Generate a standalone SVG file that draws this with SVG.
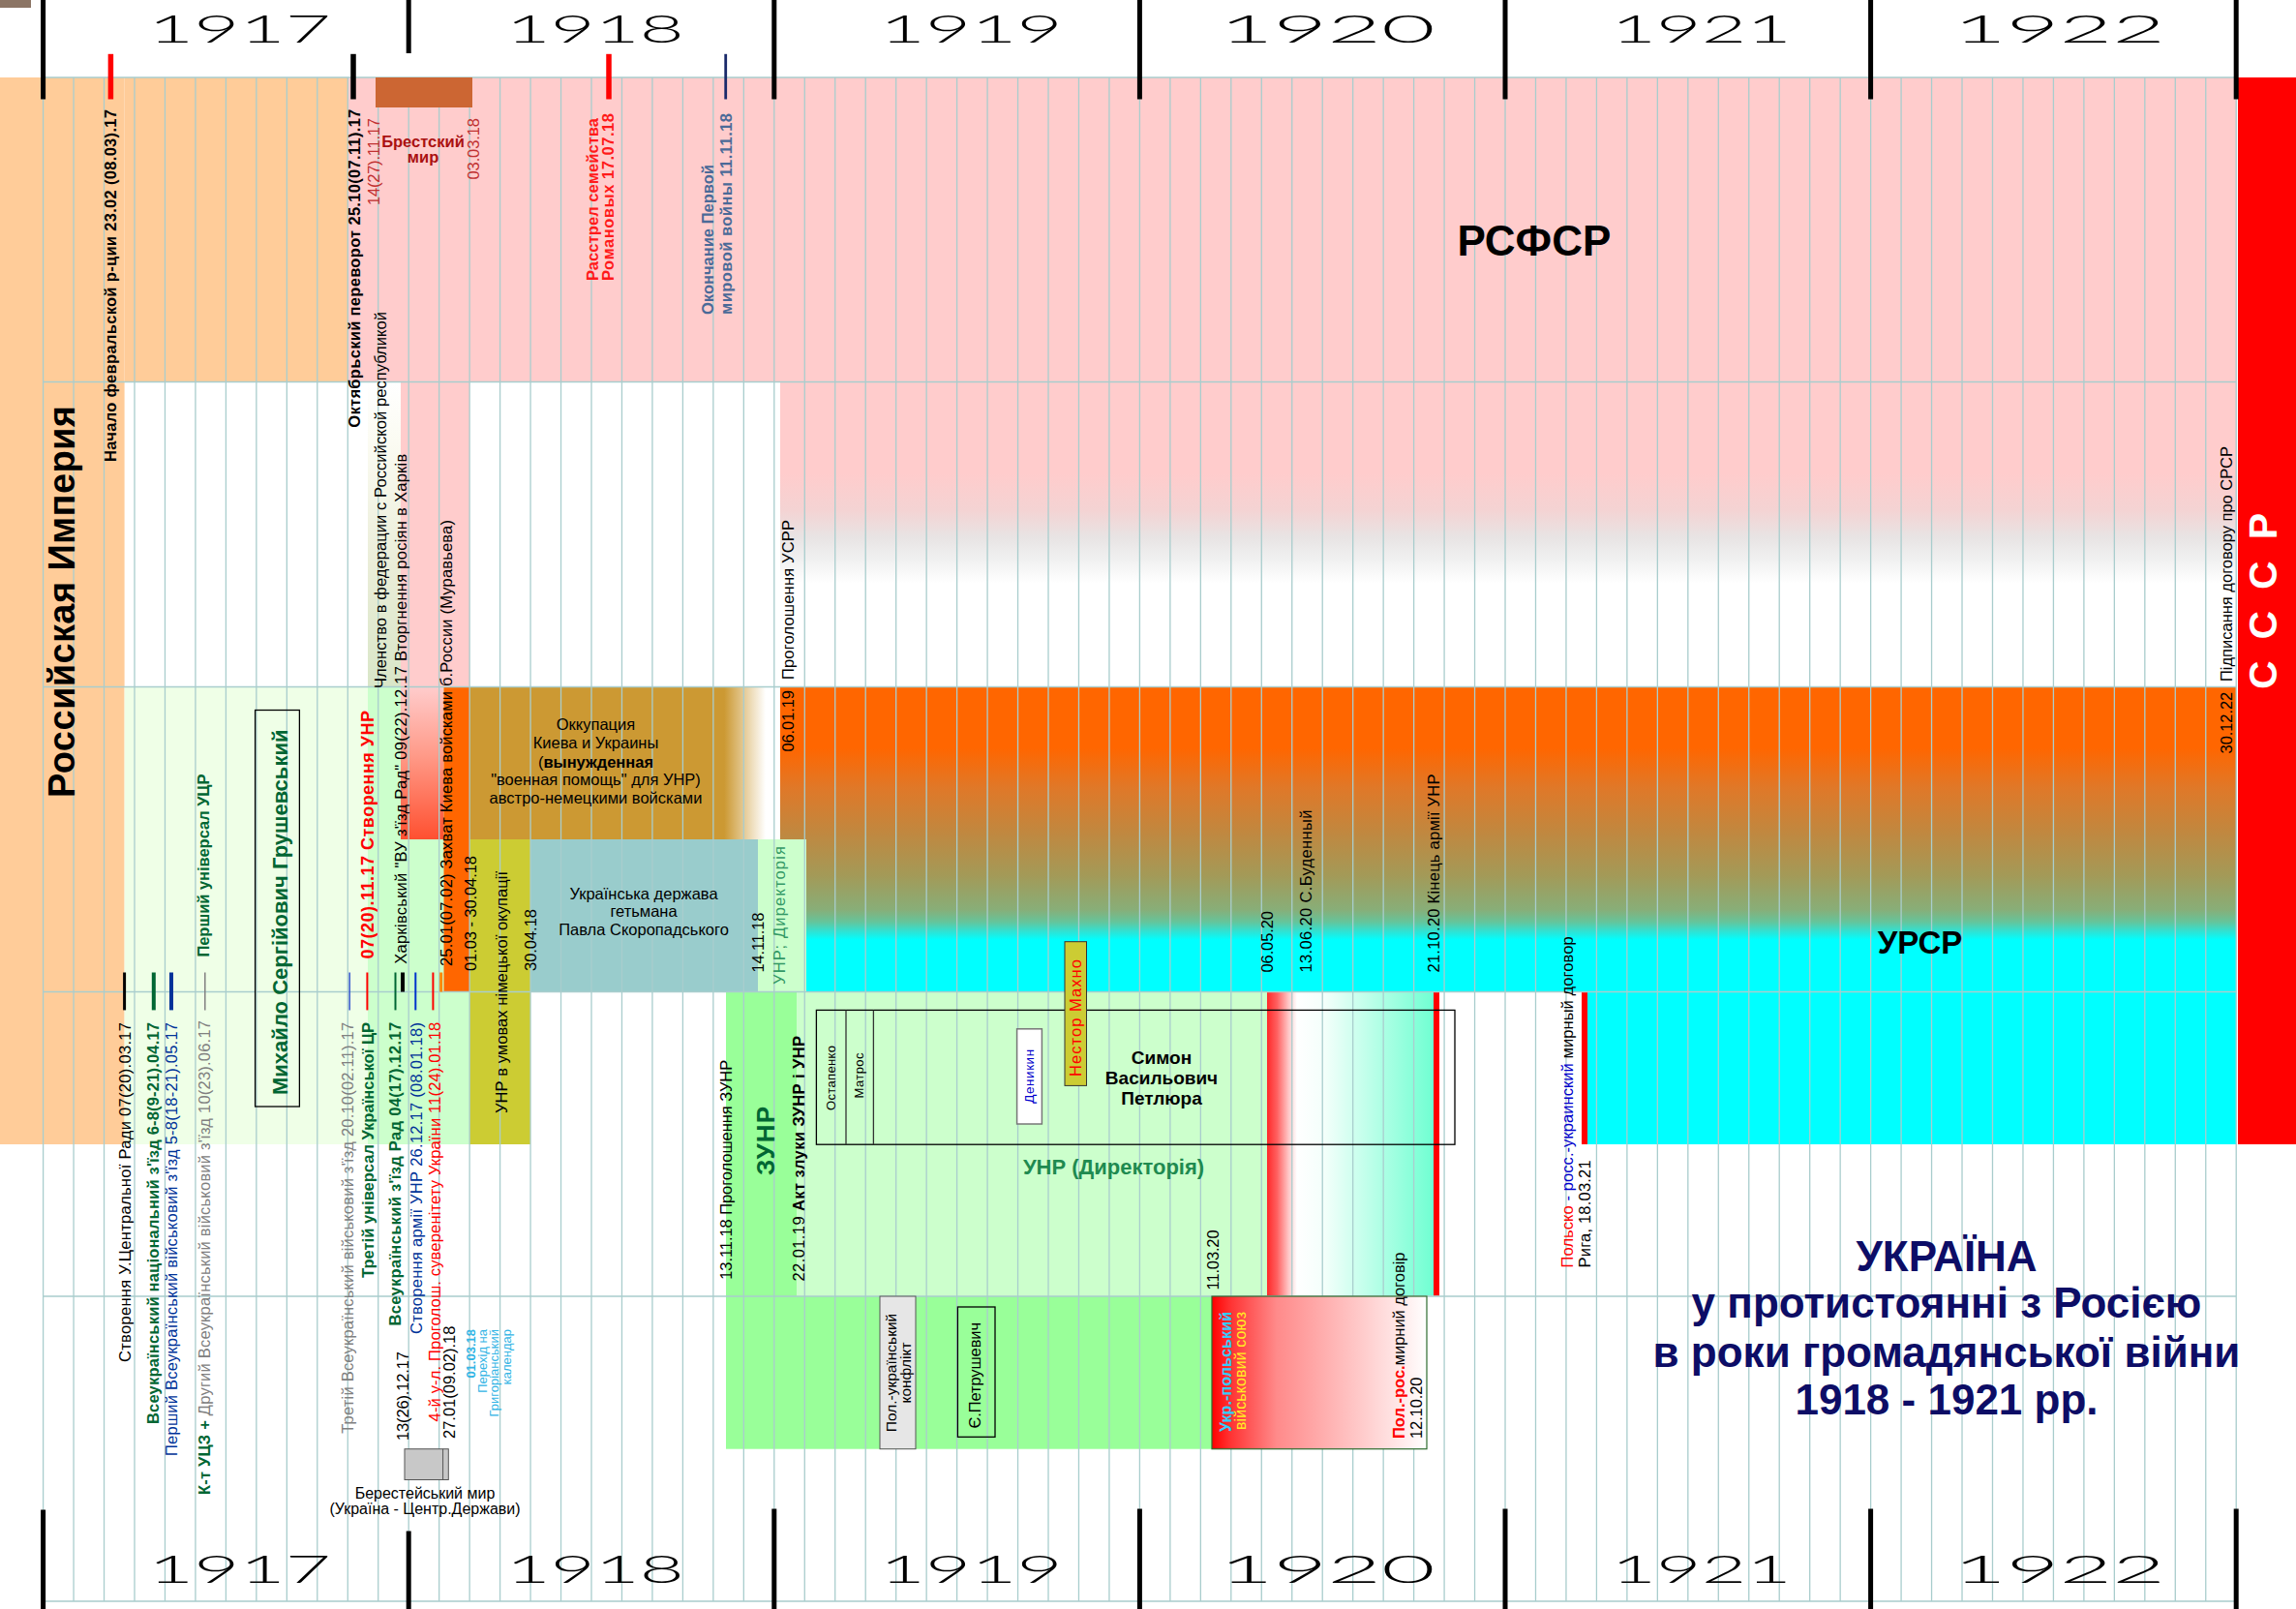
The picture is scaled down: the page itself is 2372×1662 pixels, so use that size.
<svg xmlns="http://www.w3.org/2000/svg" width="2372" height="1662" viewBox="0 0 2372 1662" xml:space="preserve">
<style>
text{font-family:"Liberation Sans",Arial,"Noto Sans",sans-serif;font-size:16.5px;fill:#000}
.b{font-weight:bold}
.yr{font-family:Lato,"DejaVu Sans",sans-serif;font-weight:300;font-size:39px}
.g{fill:#006633}
.bl{fill:#003399}
.gr{fill:#808080}
.r{fill:#FF0000}
.dr{fill:#C03030}
.grid{stroke:#A9CDCD;stroke-width:1.3;fill:none}
.yt{stroke:#000;stroke-width:5}
.box{fill:none;stroke:#000;stroke-width:1.3}
.title{font-size:44px;font-weight:bold;fill:#0D0D66}
</style>
<defs>
<linearGradient id="gFed" x1="0" y1="0" x2="0" y2="1"><stop offset="0" stop-color="#FFFFFF"/><stop offset="0.2" stop-color="#FBFBF2"/><stop offset="0.6" stop-color="#EAEDD8"/><stop offset="1" stop-color="#D9E6C8"/></linearGradient>
<linearGradient id="gPink" x1="0" y1="0" x2="0" y2="1"><stop offset="0" stop-color="#FFCCCC"/><stop offset="0.3" stop-color="#FFCCCC"/><stop offset="0.42" stop-color="#F4D3D3"/><stop offset="0.51" stop-color="#E8E4E4"/><stop offset="0.58" stop-color="#F0F0F0"/><stop offset="0.66" stop-color="#FFFFFF"/><stop offset="1" stop-color="#FFFFFF"/></linearGradient>
<linearGradient id="gInv" x1="0" y1="0" x2="0" y2="1"><stop offset="0" stop-color="#FFCCCC"/><stop offset="0.45" stop-color="#FF9A88"/><stop offset="1" stop-color="#FF5030"/></linearGradient>
<linearGradient id="gOcc" x1="0" y1="0" x2="1" y2="0"><stop offset="0" stop-color="#CC9933"/><stop offset="0.86" stop-color="#CC9933"/><stop offset="1" stop-color="#CC9933" stop-opacity="0"/></linearGradient>
<linearGradient id="gUrsr" x1="0" y1="0" x2="0" y2="1"><stop offset="0" stop-color="#FF6600"/><stop offset="0.2" stop-color="#FF6600"/><stop offset="0.33" stop-color="#E07828"/><stop offset="0.48" stop-color="#C08840"/><stop offset="0.62" stop-color="#A39A58"/><stop offset="0.73" stop-color="#88AE78"/><stop offset="0.77" stop-color="#66C49A"/><stop offset="0.8" stop-color="#33E0D0"/><stop offset="0.83" stop-color="#00FFFF"/><stop offset="1" stop-color="#00FFFF"/></linearGradient>
<linearGradient id="gPol" x1="0" y1="0" x2="1" y2="0"><stop offset="0" stop-color="#FF2A2A"/><stop offset="0.06" stop-color="#FF6060"/><stop offset="0.13" stop-color="#FFC8C8"/><stop offset="0.18" stop-color="#FFFFFF"/><stop offset="0.34" stop-color="#F4FFFB"/><stop offset="0.6" stop-color="#C0FFEA"/><stop offset="1" stop-color="#70FFD2"/></linearGradient>
<linearGradient id="gAll" x1="0" y1="0" x2="1" y2="0"><stop offset="0" stop-color="#FF0000"/><stop offset="0.08" stop-color="#FF3030"/><stop offset="0.3" stop-color="#FF8A8A"/><stop offset="0.6" stop-color="#FFBBBB"/><stop offset="0.85" stop-color="#FFE4E4"/><stop offset="1" stop-color="#FFFFFF"/></linearGradient>
</defs>
<rect x="0" y="0" width="2372" height="1662" fill="#FFFFFF"/>
<rect x="0" y="0" width="32" height="8" fill="#8C7565"/>
<g id="areas">
<rect id="peach-left" x="0" y="80" width="128.6" height="1102" fill="#FFCC99"/>
<rect id="peach-row1" x="128.6" y="80" width="230.7" height="314.5" fill="#FFCC99"/>
<rect id="pink-row1" x="359.27" y="80" width="1950.95" height="314.5" fill="#FFCCCC"/>
<rect id="fed-col" x="380" y="394.5" width="34" height="315" fill="url(#gFed)"/>
<rect id="pink-col" x="414" y="394.5" width="71" height="315" fill="#FFCCCC"/>
<rect id="rsfsr-fade" x="806" y="394.5" width="1504.2" height="315" fill="url(#gPink)"/>
<rect id="pale-green" x="128.6" y="709.5" width="251.4" height="472.5" fill="#EFFFE7"/>
<rect id="light-green" x="380" y="709.5" width="105" height="472.5" fill="#CCFFCC"/>
<rect id="invasion" x="414" y="709.5" width="44.5" height="157.5" fill="url(#gInv)"/>
<rect id="kiev-capture" x="458.5" y="709.5" width="26.5" height="315" fill="#FF6600"/>
<rect id="ursr-band" x="806" y="709.5" width="1504.2" height="315" fill="url(#gUrsr)"/>
<rect id="occupation-area" x="485" y="709.5" width="306" height="157.5" fill="url(#gOcc)"/>
<rect id="olive-area" x="485" y="867" width="63" height="315" fill="#CCCC33"/>
<rect id="hetman-area" x="548" y="867" width="235" height="157.5" fill="#99CCCC"/>
<rect id="directory-strip" x="783" y="867" width="50" height="157.5" fill="#CCFFCC"/>
<rect id="zunr-col" x="750" y="1024.5" width="73.5" height="315" fill="#99FF99"/>
<rect id="zunr-bottom" x="750" y="1339" width="502" height="157.7" fill="#99FF99"/>
<rect id="unr-dir-area" x="823.5" y="1024.5" width="485.5" height="314.5" fill="#CCFFCC"/>
<rect id="polish-1920" x="1309" y="1024.5" width="172" height="314" fill="url(#gPol)"/>
<rect x="1481" y="1024.5" width="6" height="314" fill="#FF0000"/>
<rect x="1634" y="1024.5" width="6" height="157.5" fill="#FF0000"/>
<rect id="cyan-area" x="1640" y="1024.5" width="670.2" height="157.5" fill="#00FFFF"/>
<rect id="ussr-band" x="2312" y="80" width="60" height="1102" fill="#FF0000"/>
</g>
<g id="grid">
<path class="grid" d="M44.6 80V1654M76.07 80V1654M107.53 80V1654M139 80V1654M170.47 80V1654M201.94 80V1654M233.4 80V1654M264.87 80V1654M296.34 80V1654M327.8 80V1654M359.27 80V1654M390.74 80V1654M422.2 80V1654M453.67 80V1654M485.14 80V1654M516.6 80V1654M548.07 80V1654M579.54 80V1654M611.01 80V1654M642.47 80V1654M673.94 80V1654M705.41 80V1654M736.87 80V1654M768.34 80V1654M799.81 80V1654M831.28 80V1654M862.74 80V1654M894.21 80V1654M925.68 80V1654M957.14 80V1654M988.61 80V1654M1020.08 80V1654M1051.54 80V1654M1083.01 80V1654M1114.48 80V1654M1145.95 80V1654M1177.41 80V1654M1208.88 80V1654M1240.35 80V1654M1271.81 80V1654M1303.28 80V1654M1334.75 80V1654M1366.21 80V1654M1397.68 80V1654M1429.15 80V1654M1460.62 80V1654M1492.08 80V1654M1523.55 80V1654M1555.02 80V1654M1586.48 80V1654M1617.95 80V1654M1649.42 80V1654M1680.88 80V1654M1712.35 80V1654M1743.82 80V1654M1775.29 80V1654M1806.75 80V1654M1838.22 80V1654M1869.69 80V1654M1901.15 80V1654M1932.62 80V1654M1964.09 80V1654M1995.55 80V1654M2027.02 80V1654M2058.49 80V1654M2089.96 80V1654M2121.42 80V1654M2152.89 80V1654M2184.36 80V1654M2215.82 80V1654M2247.29 80V1654M2278.76 80V1654M2310.22 80V1654M44.6 80H2310.22M44.6 394.5H2310.22M44.6 709.5H2310.22M44.6 1024.5H2310.22M44.6 1339H2310.22M44.6 1654H2310.22"/>
</g>
<g id="connectors">
<path class="yt" d="M44.6 0V102.5M422.2 0V55M799.8 0V102.5M1177.4 0V102.5M1555 0V102.5M1932.6 0V102.5M2310.2 0V102.5M44.6 1559.6V1662M422.2 1581.5V1662M799.8 1558.5V1662M1177.4 1558.5V1662M1555 1558.5V1662M1932.6 1558.5V1662M2310.2 1558.5V1662"/>
<path d="M114.4 55.8V102.5" stroke="#FF0000" stroke-width="5.5"/>
<path d="M365 55.8V102.5" stroke="#000" stroke-width="5.5"/>
<path d="M629 55.8V102.5" stroke="#FF0000" stroke-width="5.5"/>
<path d="M749.7 55.8V102.5" stroke="#1A2A6A" stroke-width="2.8"/>
<path d="M128.6 1004.5V1043.4" stroke="#000" stroke-width="3"/>
<path d="M158.8 1004.5V1043.4" stroke="#006633" stroke-width="4"/>
<path d="M177 1004.5V1043.4" stroke="#003399" stroke-width="4"/>
<path d="M211.8 1004.5V1043.4" stroke="#808080" stroke-width="1.5"/>
<path d="M361.2 1004.5V1043.4" stroke="#3355CC" stroke-width="1.5"/>
<path d="M379.4 1004.5V1043.4" stroke="#FF0000" stroke-width="2"/>
<path d="M408.5 1004.5V1043.4" stroke="#006633" stroke-width="2"/>
<path d="M416 1004.5V1024.5" stroke="#000" stroke-width="4"/>
<path d="M429.3 1004.5V1043.4" stroke="#0033CC" stroke-width="2"/>
<path d="M447.4 1004.5V1043.4" stroke="#FF0000" stroke-width="2"/>
<path d="M455.7 1004.5V1024.5" stroke="#FF8800" stroke-width="3"/>
</g>
<g id="years">
<text class="yr" x="153" y="44.2" textLength="189" lengthAdjust="spacingAndGlyphs">1917</text>
<text class="yr" x="522.7" y="44.2" textLength="184" lengthAdjust="spacingAndGlyphs">1918</text>
<text class="yr" x="908.8" y="44.2" textLength="189" lengthAdjust="spacingAndGlyphs">1919</text>
<text class="yr" x="1259.7" y="44.2" textLength="223" lengthAdjust="spacingAndGlyphs">1920</text>
<text class="yr" x="1664.4" y="44.2" textLength="186.5" lengthAdjust="spacingAndGlyphs">1921</text>
<text class="yr" x="2018" y="44.2" textLength="219" lengthAdjust="spacingAndGlyphs">1922</text>
<text class="yr" x="153" y="1634.5" textLength="189" lengthAdjust="spacingAndGlyphs">1917</text>
<text class="yr" x="522.7" y="1634.5" textLength="184" lengthAdjust="spacingAndGlyphs">1918</text>
<text class="yr" x="908.8" y="1634.5" textLength="189" lengthAdjust="spacingAndGlyphs">1919</text>
<text class="yr" x="1259.7" y="1634.5" textLength="223" lengthAdjust="spacingAndGlyphs">1920</text>
<text class="yr" x="1664.4" y="1634.5" textLength="186.5" lengthAdjust="spacingAndGlyphs">1921</text>
<text class="yr" x="2018" y="1634.5" textLength="219" lengthAdjust="spacingAndGlyphs">1922</text>
</g>
<g id="russian-empire">
<text class="b" style="font-size:38px" transform="translate(77,824) rotate(-90)" textLength="405">Российская Империя</text>
</g>
<g id="feb-revolution">
<text class="b" transform="translate(119.5,477) rotate(-90)" textLength="364">Начало февральской р-ции   23.02 (08.03).17</text>
</g>
<g id="oct-revolution">
<text class="b" transform="translate(372,441.7) rotate(-90)" textLength="329">Октябрьский переворот  25.10(07.11).17</text>
</g>
<g id="brest-peace">
<rect x="388" y="80" width="100" height="31" fill="#CC6633"/>
<text class="dr" transform="translate(392,212) rotate(-90)" textLength="90">14(27).11.17</text>
<text class="b" style="fill:#AA1111" x="437" y="152" text-anchor="middle">Брестский</text>
<text class="b" style="fill:#AA1111" x="437" y="168" text-anchor="middle">мир</text>
<text class="dr" transform="translate(495,185.5) rotate(-90)" textLength="63.5">03.03.18</text>
</g>
<g id="romanov">
<text class="b" style="fill:#FF1A1A" transform="translate(618,290) rotate(-90)" textLength="168">Расстрел семейства</text>
<text class="b" style="fill:#FF1A1A" transform="translate(634,290) rotate(-90)" textLength="173">Романовых   17.07.18</text>
</g>
<g id="wwi-end">
<text class="b" style="fill:#4A6A98" transform="translate(737,325) rotate(-90)" textLength="155">Окончание Первой</text>
<text class="b" style="fill:#4A6A98" transform="translate(756,325) rotate(-90)" textLength="208">мировой войны   11.11.18</text>
</g>
<g id="rsfsr">
<text class="b" style="font-size:44px" x="1505.6" y="264">РСФСР</text>
</g>
<g id="federation">
<text transform="translate(398.5,711) rotate(-90)" textLength="389">Членство в федерации с Российской республикой</text>
</g>
<g id="kharkiv">
<text transform="translate(420,995.7) rotate(-90)" textLength="527">Харківський "ВУ з'їзд Рад"   09(22).12.17 Вторгнення росіян в Харків</text>
</g>
<g id="kiev-capture-label">
<text transform="translate(466.5,998) rotate(-90)" textLength="461">25.01(07.02) Захват Киева войсками б.России (Муравьева)</text>
</g>
<g id="ussr-proclaim">
<text transform="translate(819.5,702) rotate(-90)" textLength="165">Проголошення УСРР</text>
<text transform="translate(819.5,776.6) rotate(-90)" textLength="63.6">06.01.19</text>
</g>
<g id="ussr-treaty">
<text transform="translate(2306,704) rotate(-90)" textLength="243">Підписання договору про СРСР</text>
<text transform="translate(2306,778.4) rotate(-90)" textLength="63.6">30.12.22</text>
</g>
<g id="ussr">
<text class="b" style="font-size:41px;fill:#FFFFFF" transform="translate(2352,712) rotate(-90)" textLength="182">С С С Р</text>
</g>
<g id="first-universal">
<text class="b g" transform="translate(216,988.6) rotate(-90)" textLength="189">Перший універсал УЦР</text>
</g>
<g id="hrushevsky">
<rect class="box" x="263.6" y="733.5" width="45.8" height="409.5"/>
<text class="b g" style="font-size:22px" transform="translate(297,1131) rotate(-90)" textLength="377.5">Михайло Сергійович Грушевський</text>
</g>
<g id="unr-creation">
<text class="b r" style="font-size:18px" transform="translate(385.5,990.4) rotate(-90)" textLength="256.4">07(20).11.17   Створення УНР</text>
</g>
<g id="occupation">
<text x="615.5" y="754" text-anchor="middle">Оккупация</text>
<text x="615.5" y="773" text-anchor="middle">Киева и Украины</text>
<text x="615.5" y="792.5" text-anchor="middle">(<tspan class="b">вынужденная</tspan></text>
<text x="615.5" y="811" text-anchor="middle">"военная помощь"  для УНР)</text>
<text x="615.5" y="830" text-anchor="middle">австро-немецкими войсками</text>
</g>
<g id="unr-german">
<text transform="translate(524,1150) rotate(-90)" textLength="250">УНР в умовах німецької окупації</text>
<text transform="translate(492,1003) rotate(-90)" textLength="119">01.03 - 30.04.18</text>
</g>
<g id="hetmanate">
<text x="665" y="929" text-anchor="middle">Українська держава</text>
<text x="665" y="946.5" text-anchor="middle">гетьмана</text>
<text x="665" y="965.5" text-anchor="middle">Павла Скоропадського</text>
<text transform="translate(554,1003) rotate(-90)" textLength="64">30.04.18</text>
<text transform="translate(788.5,1004.5) rotate(-90)" textLength="62">14.11.18</text>
</g>
<g id="unr-directory-strip">
<text style="fill:#339966" transform="translate(810.5,1017) rotate(-90)" textLength="143">УНР; Директорія</text>
</g>
<g id="events-1920">
<text transform="translate(1315,1004.5) rotate(-90)" textLength="63.5">06.05.20</text>
<text transform="translate(1355,1004.5) rotate(-90)" textLength="168">13.06.20  С.Буденный</text>
<text transform="translate(1487,1004.5) rotate(-90)" textLength="205">21.10.20  Кінець армії УНР</text>
</g>
<g id="ursr">
<text class="b" style="font-size:33px" x="1939.7" y="985">УРСР</text>
</g>
<g id="riga">
<text transform="translate(1624.5,1309.4) rotate(-90)" textLength="342"><tspan class="r">Польско</tspan><tspan style="fill:#0000CC"> - росс.-украинский </tspan>мирный договор</text>
<text transform="translate(1642.5,1309.4) rotate(-90)" textLength="111">Рига,  18.03.21</text>
</g>
<g id="petliura-box">
<rect class="box" x="843.4" y="1043.4" width="659.6" height="138.8"/>
<path d="M874 1043.4V1182.2M902.4 1043.4V1182.2" stroke="#333" stroke-width="1.3"/>
<text style="font-size:13px" transform="translate(862.5,1147) rotate(-90)" textLength="67">Остапенко</text>
<text style="font-size:13px" transform="translate(892,1134.5) rotate(-90)" textLength="47">Матрос</text>
<text class="b" style="font-size:19px" x="1200" y="1099" text-anchor="middle">Симон</text>
<text class="b" style="font-size:19px" x="1200" y="1120" text-anchor="middle">Васильович</text>
<text class="b" style="font-size:19px" x="1200" y="1141" text-anchor="middle">Петлюра</text>
</g>
<g id="denikin">
<rect x="1050.6" y="1062.8" width="25.8" height="98.2" fill="#FFFFFF" stroke="#777" stroke-width="1.5"/>
<text style="font-size:13.5px;fill:#0000CC" transform="translate(1068,1139.8) rotate(-90)" textLength="56">Деникин</text>
</g>
<g id="makhno">
<rect x="1100" y="972.7" width="22.5" height="148.7" fill="#CCCC33" stroke="#333" stroke-width="1"/>
<text class="r" transform="translate(1117,1112) rotate(-90)" textLength="121">Нестор Махно</text>
</g>
<g id="unr-directory">
<text class="b" style="font-size:22px;fill:#1F8A50" x="1150.5" y="1213" text-anchor="middle">УНР (Директорія)</text>
<text transform="translate(1258.5,1332.4) rotate(-90)" textLength="62">11.03.20</text>
</g>
<g id="zunr">
<text transform="translate(756,1321.8) rotate(-90)" textLength="227">13.11.18 Проголошення ЗУНР</text>
<text class="b g" style="font-size:26px" transform="translate(800,1214) rotate(-90)" textLength="71">ЗУНР</text>
<text transform="translate(831,1323.5) rotate(-90)" textLength="253.5">22.01.19   <tspan class="b">Акт злуки ЗУНР і УНР</tspan></text>
</g>
<g id="pol-ukr-conflict">
<rect x="909" y="1339" width="37" height="157.7" fill="#E6E6E6" stroke="#555" stroke-width="1"/>
<text style="font-size:15.5px" text-anchor="middle" transform="translate(925.5,1418) rotate(-90)">Пол.-український</text>
<text style="font-size:15.5px" text-anchor="middle" transform="translate(941,1418) rotate(-90)">конфлікт</text>
</g>
<g id="petrushevych">
<rect class="box" x="989.4" y="1350" width="38.6" height="134.3" stroke-width="1"/>
<text transform="translate(1013,1475.5) rotate(-90)" textLength="109.5">Є.Петрушевич</text>
</g>
<g id="alliance">
<rect x="1252" y="1339" width="222" height="157.7" fill="url(#gAll)" stroke="#2E6B2E" stroke-width="1.2"/>
<text class="b" style="font-size:16px;fill:#33CCFF" transform="translate(1272,1479) rotate(-90)" textLength="124">Укр.-польський</text>
<text style="font-size:16px;fill:#FFEE22" transform="translate(1287,1477) rotate(-90)" textLength="122">військовий союз</text>
<text transform="translate(1451,1486) rotate(-90)" textLength="192.5"><tspan class="b r">Пол.-рос.</tspan>мирний договір</text>
<text transform="translate(1469,1486) rotate(-90)" textLength="63.5">12.10.20</text>
</g>
<g id="early-events">
<text transform="translate(135,1407) rotate(-90)" textLength="351">Створення У.Центральної Ради  07(20).03.17</text>
<text class="b g" transform="translate(164,1471) rotate(-90)" textLength="415">Всеукраїнський національний з'їзд   6-8(9-21).04.17</text>
<text class="bl" transform="translate(183,1504) rotate(-90)" textLength="448">Перший Всеукраїнський військовий з'їзд   5-8(18-21).05.17</text>
<text class="gr" transform="translate(217,1544) rotate(-90)" textLength="490"><tspan class="b g">К-т УЦЗ +</tspan> Другий Всеукраїнський військовий з'їзд   10(23).06.17</text>
<text class="gr" transform="translate(365,1480.8) rotate(-90)" textLength="425">Третій Всеукраїнський військовий з'їзд   20.10(02.11).17</text>
<text class="b g" transform="translate(386,1320) rotate(-90)" textLength="264">Третій універсал Української ЦР</text>
<text class="b g" transform="translate(413.5,1369.5) rotate(-90)" textLength="313.7">Всеукраїнський з'їзд Рад   04(17).12.17</text>
<text transform="translate(422,1488) rotate(-90)" textLength="92">13(26).12.17</text>
<text class="bl" transform="translate(435.5,1378) rotate(-90)" textLength="322">Створення армії УНР   26.12.17 (08.01.18)</text>
<text class="r" transform="translate(454.5,1468.4) rotate(-90)" textLength="412.6">4-й у-л. Проголош. суверенітету України   11(24).01.18</text>
<text transform="translate(469.5,1486) rotate(-90)" textLength="116.5">27.01(09.02).18</text>
</g>
<g id="calendar">
<text class="b" style="font-size:13px;fill:#33B5E5" text-anchor="end" transform="translate(491,1373) rotate(-90)">01.03.18</text>
<text style="font-size:13px;fill:#33B5E5" text-anchor="end" transform="translate(503,1373) rotate(-90)">Перехід на</text>
<text style="font-size:13px;fill:#33B5E5" text-anchor="end" transform="translate(514.5,1373) rotate(-90)">Григоріанський</text>
<text style="font-size:13px;fill:#33B5E5" text-anchor="end" transform="translate(527.5,1373) rotate(-90)">календар</text>
</g>
<g id="berestey">
<rect x="418" y="1496.7" width="45.3" height="31.8" fill="#C8C8C8" stroke="#555" stroke-width="1"/>
<path d="M457.6 1496.7V1528.5" stroke="#555" stroke-width="1"/>
<text style="font-size:16px" x="439" y="1548" text-anchor="middle">Берестейський мир</text>
<text style="font-size:16px" x="439" y="1564" text-anchor="middle">(Україна - Центр.Держави)</text>
</g>
<g id="title">
<text class="title" x="2011" y="1313" text-anchor="middle">УКРАЇНА</text>
<text class="title" x="2011" y="1361" text-anchor="middle">у протистоянні з Росією</text>
<text class="title" x="2011" y="1412" text-anchor="middle">в роки громадянської війни</text>
<text class="title" x="2011" y="1461" text-anchor="middle">1918 - 1921 рр.</text>
</g>
</svg>
